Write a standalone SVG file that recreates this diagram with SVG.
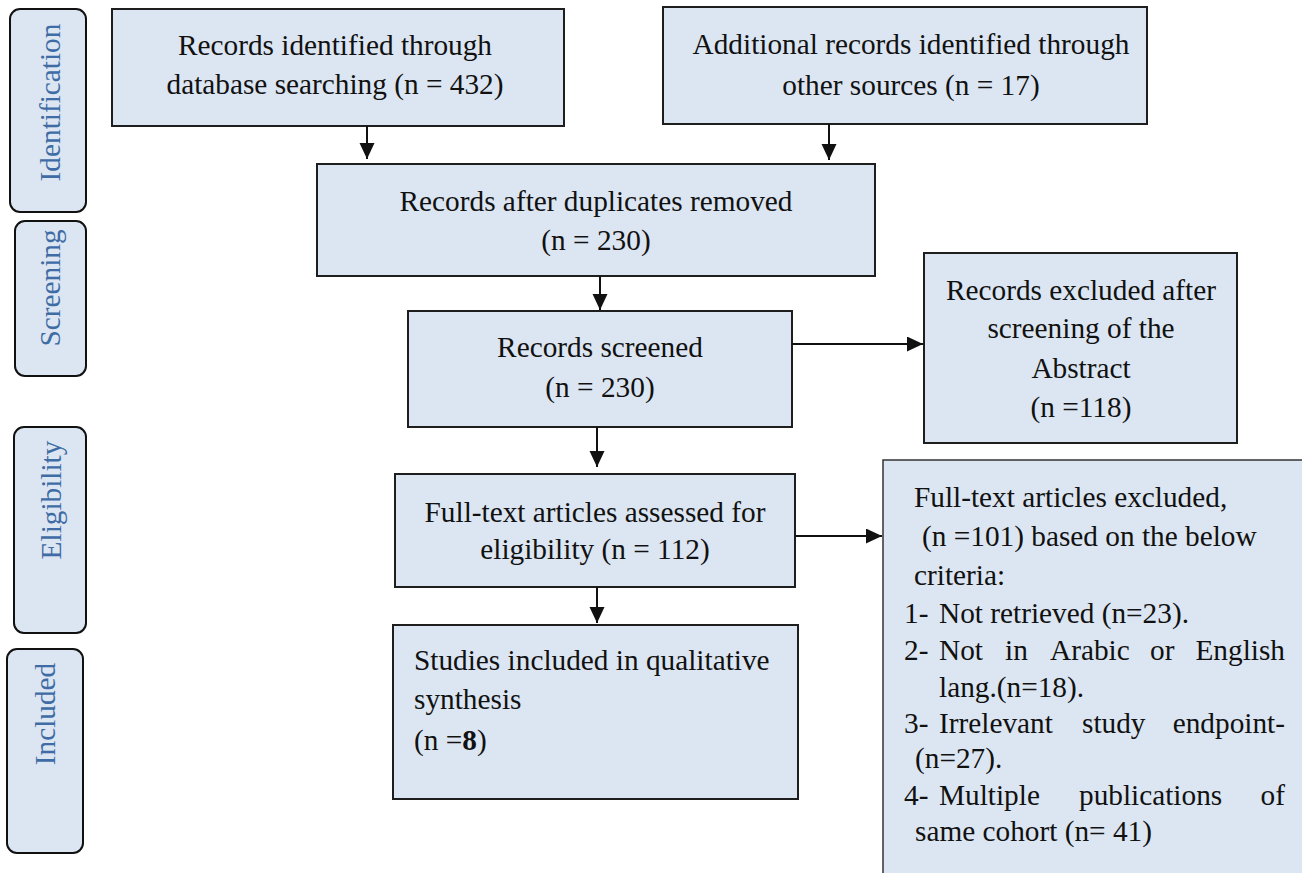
<svg xmlns="http://www.w3.org/2000/svg" width="1302" height="873" viewBox="0 0 1302 873">
<style>
.box{fill:#dce6f2;stroke:#1e1e1e;stroke-width:2}
.side{fill:#dce6f2;stroke:#111;stroke-width:2}
.t{font-family:"Liberation Serif","Times New Roman",serif;font-size:29.3px;fill:#111}
.c{text-anchor:middle}
.e{text-anchor:end}
.s{font-family:"Liberation Serif","Times New Roman",serif;font-size:29.3px;fill:#3f6ca5;text-anchor:middle}
.ln{stroke:#111;stroke-width:2;fill:none}
</style>
<defs>
<marker id="ah" markerUnits="userSpaceOnUse" markerWidth="17" markerHeight="16" refX="16" refY="7.5" orient="auto">
<path d="M0,0 L16,7.5 L0,15 z" fill="#111"/>
</marker>
</defs>
<rect width="1302" height="873" fill="#fff"/>

<g id="side-identification"><rect class="side" x="10" y="9" width="76" height="203" rx="10"/><text class="s" transform="translate(60,102.5) rotate(-90)">Identification</text></g>
<g id="side-screening"><rect class="side" x="15" y="221" width="71" height="155" rx="10"/><text class="s" transform="translate(60,288) rotate(-90)">Screening</text></g>
<g id="side-eligibility"><rect class="side" x="14" y="427" width="72" height="206" rx="10"/><text class="s" transform="translate(61,500) rotate(-90)">Eligibility</text></g>
<g id="side-included"><rect class="side" x="7" y="649" width="76" height="204" rx="10"/><text class="s" transform="translate(55,714) rotate(-90)">Included</text></g>

<g id="n-database"><rect class="box" x="112" y="9" width="452" height="117"/>
<text class="t c" x="335" y="55">Records identified through</text>
<text class="t c" x="335" y="94">database searching (n = 432)</text></g>

<g id="n-other"><rect class="box" x="663" y="7" width="484" height="117"/>
<text class="t c" x="911" y="54">Additional records identified through</text>
<text class="t c" x="911" y="95">other sources (n = 17)</text></g>

<g id="n-dupes"><rect class="box" x="317" y="164" width="558" height="112"/>
<text class="t c" x="596" y="211">Records after duplicates removed</text>
<text class="t c" x="596" y="250">(n = 230)</text></g>

<g id="n-screened"><rect class="box" x="408" y="311" width="384" height="116"/>
<text class="t c" x="600" y="357">Records screened</text>
<text class="t c" x="600" y="397">(n = 230)</text></g>

<g id="n-excl-abstract"><rect class="box" x="924" y="253" width="313" height="190"/>
<text class="t c" x="1081" y="300">Records excluded after</text>
<text class="t c" x="1081" y="338">screening of the</text>
<text class="t c" x="1081" y="378">Abstract</text>
<text class="t c" x="1081" y="417">(n =118)</text></g>

<g id="n-fulltext"><rect class="box" x="395" y="474" width="400" height="113"/>
<text class="t c" x="595" y="522">Full-text articles assessed for</text>
<text class="t c" x="595" y="559">eligibility (n = 112)</text></g>

<g id="n-excl-fulltext"><rect class="box" x="883" y="460" width="430" height="430" style="stroke:#333;stroke-width:1.5"/>
<text class="t" x="914" y="507">Full-text articles excluded,</text>
<text class="t" x="922" y="546">(n =101) based on the below</text>
<text class="t" x="914" y="585">criteria:</text>
<text class="t" x="904" y="623">1-</text><text class="t" x="939" y="623">Not retrieved (n=23).</text>
<text class="t" x="904" y="660">2-</text><text class="t" x="939" y="660">Not</text><text class="t" x="1005" y="660">in</text><text class="t" x="1050" y="660">Arabic</text><text class="t" x="1150" y="660">or</text><text class="t e" x="1285" y="660">English</text>
<text class="t" x="939" y="697">lang.(n=18).</text>
<text class="t" x="904" y="733">3-</text><text class="t" x="939" y="733">Irrelevant</text><text class="t" x="1082" y="733">study</text><text class="t e" x="1285" y="733">endpoint-</text>
<text class="t" x="915" y="768">(n=27).</text>
<text class="t" x="904" y="805">4-</text><text class="t" x="939" y="805">Multiple</text><text class="t" x="1079" y="805">publications</text><text class="t e" x="1285" y="805">of</text>
<text class="t" x="915" y="841">same cohort (n= 41)</text></g>

<g id="n-included"><rect class="box" x="393" y="625" width="405" height="174"/>
<text class="t" x="414" y="670">Studies included in qualitative</text>
<text class="t" x="414" y="709">synthesis</text>
<text class="t" x="414" y="750">(n =<tspan font-weight="bold">8</tspan>)</text></g>

<g id="connectors">
<line class="ln" x1="367" y1="126" x2="367" y2="159" marker-end="url(#ah)"/>
<line class="ln" x1="829" y1="124" x2="829" y2="160" marker-end="url(#ah)"/>
<line class="ln" x1="600" y1="276" x2="600" y2="310" marker-end="url(#ah)"/>
<line class="ln" x1="792" y1="344" x2="923" y2="344" marker-end="url(#ah)"/>
<line class="ln" x1="597" y1="427" x2="597" y2="467" marker-end="url(#ah)"/>
<line class="ln" x1="795" y1="536" x2="882" y2="536" marker-end="url(#ah)"/>
<line class="ln" x1="597" y1="587" x2="597" y2="623" marker-end="url(#ah)"/>
</g>
</svg>
